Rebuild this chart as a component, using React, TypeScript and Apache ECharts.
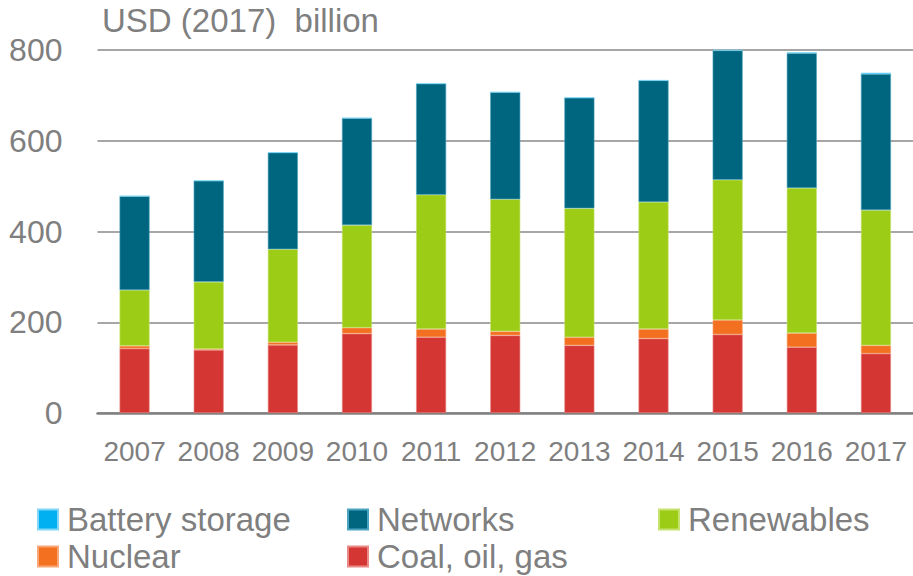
import React, { useEffect, useRef } from "react";
import * as echarts from "echarts";

const years = ["2007", "2008", "2009", "2010", "2011", "2012", "2013", "2014", "2015", "2016", "2017"];
const coal = [142, 139, 150, 175, 167, 171, 149, 164, 173, 145, 131];
const nuclear = [6, 2, 6, 13, 18, 9, 18, 21, 32, 31, 18];
const renewables = [123, 148, 205, 226, 296, 291, 284, 280, 309, 320, 298];
const networks = [207, 223, 213, 236, 245, 236, 244, 268, 285, 297, 300];
const battery = [0, 0, 0, 0, 0, 0, 0, 0, 1, 2, 3];
const yTicks = [0, 200, 400, 600, 800];

const FONT = "'Liberation Sans', Arial, sans-serif";
const GRAY = "#7f7f7f";

export default function App() {
  const ref = useRef<HTMLDivElement>(null);
  useEffect(() => {
    if (!ref.current) return;
    const chart = echarts.init(ref.current, undefined, { renderer: "svg" });
    const mk = (name: string, data: number[], color: string, border: string) => ({
      name,
      type: "bar",
      stack: "total",
      data,
      barWidth: 30,
      itemStyle: { color, borderColor: border, borderWidth: 0.6 },
    });
    const legendItem = (name: string, left: number, top: number) => ({
      data: [name],
      left,
      top,
      padding: 0,
      itemWidth: 20,
      itemHeight: 20,
      itemGap: 0,
      icon: "rect",
      textStyle: { fontFamily: FONT, fontSize: 33, color: GRAY, padding: [0, 0, 0, 4] },
    });
    chart.setOption({
      animation: false,
      textStyle: { fontFamily: FONT },
      title: {
        text: "USD (2017)  billion",
        left: 102,
        top: 4,
        padding: 0,
        textStyle: { fontFamily: FONT, fontSize: 33, fontWeight: "normal", color: GRAY },
      },
      legend: [
        legendItem("Battery storage", 37, 503),
        legendItem("Networks", 347, 503),
        legendItem("Renewables", 658, 503),
        legendItem("Nuclear", 37, 540),
        legendItem("Coal, oil, gas", 347, 540),
      ],
      grid: { left: 97.5, top: 50, width: 820.6, height: 363, containLabel: false },
      xAxis: {
        type: "category",
        data: years,
        axisTick: { show: false },
        axisLine: { show: true, lineStyle: { color: "#808080", width: 2.5 } },
        axisLabel: { color: GRAY, fontSize: 28, margin: 24, fontFamily: FONT, interval: 0 },
      },
      yAxis: {
        type: "value",
        min: yTicks[0],
        max: yTicks[yTicks.length - 1],
        interval: 200,
        axisLine: { show: false },
        axisTick: { show: false },
        splitLine: { lineStyle: { color: "#a6a6a6", width: 2 } },
        axisLabel: { color: GRAY, fontSize: 32, margin: 35, fontFamily: FONT },
      },
      series: [
        mk("Coal, oil, gas", coal, "#d43733", "#e98a87"),
        mk("Nuclear", nuclear, "#f37021", "#f8a777"),
        mk("Renewables", renewables, "#9dcc16", "#c6e36f"),
        mk("Networks", networks, "#00667f", "#4aa3c0"),
        mk("Battery storage", battery, "#00b0f0", "#7fd6f7"),
      ],
    });
    return () => chart.dispose();
  }, []);
  return (
    <div
      ref={ref}
      style={{ position: "fixed", left: 0, top: 0, width: 913, height: 576, background: "#fff" }}
    />
  );
}
